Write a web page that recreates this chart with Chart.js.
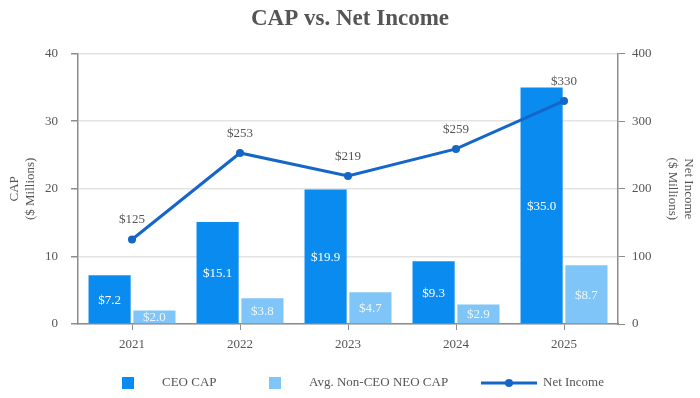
<!DOCTYPE html>
<html>
<head>
<meta charset="utf-8">
<script src="https://cdn.jsdelivr.net/npm/chart.js@4.4.1/dist/chart.umd.min.js"></script>
<style>
  html, body { margin: 0; padding: 0; background: #fff; }
  #wrap { width: 700px; height: 398px; }
</style>
</head>
<body>
<div id="wrap"><canvas id="CapCanvas" width="700" height="398"></canvas></div>
<script>
var years = ['2021', '2022', '2023', '2024', '2025'];
var ceoCap = [7.2, 15.1, 19.9, 9.3, 35.0];
var neoCap = [2.0, 3.8, 4.7, 2.9, 8.7];
var netIncome = [125, 253, 219, 259, 330];

var SERIF = "'Liberation Serif', 'Times New Roman', serif";
var CEO_BLUE = '#0a8bf0';
var NEO_BLUE = '#80c5f7';
var LINE_BLUE = '#1467c8';
var TEXT_GREY = '#555555';
var AXIS_GREY = '#8c8c8c';

function money(v, digits) {
    return '$' + v.toFixed(digits);
}

// value labels for bars and line points
var valueLabels = {
    id: 'valueLabels',
    afterDatasetsDraw: function (chart) {
        var ctx = chart.ctx;
        ctx.save();
        ctx.font = '13px ' + SERIF;
        ctx.textAlign = 'center';
        chart.data.datasets.forEach(function (ds, i) {
            var meta = chart.getDatasetMeta(i);
            meta.data.forEach(function (el, j) {
                var v = ds.data[j];
                if (ds.type === 'line') {
                    ctx.fillStyle = TEXT_GREY;
                    ctx.textBaseline = 'bottom';
                    ctx.fillText(money(v, 0), el.x, el.y - 13);
                } else {
                    ctx.fillStyle = i === 0 ? '#ffffff' : 'rgba(255,255,255,0.85)';
                    ctx.textBaseline = 'middle';
                    ctx.fillText(money(v, 1), el.x, (el.y + el.base) / 2 + 1);
                }
            });
        });
        ctx.restore();
    }
};

// legend with a line-and-marker sample for the line series
var bottomLegend = {
    id: 'bottomLegend',
    afterDraw: function (chart) {
        var ctx = chart.ctx;
        var ds = chart.data.datasets;
        var y = 383;
        ctx.save();
        ctx.font = '13px ' + SERIF;
        ctx.textBaseline = 'middle';
        ctx.textAlign = 'left';

        ctx.fillStyle = ds[0].backgroundColor;
        ctx.fillRect(122, y - 6, 12, 12);
        ctx.fillStyle = TEXT_GREY;
        ctx.fillText(ds[0].label, 162, y);

        ctx.fillStyle = ds[1].backgroundColor;
        ctx.fillRect(269, y - 6, 12, 12);
        ctx.fillStyle = TEXT_GREY;
        ctx.fillText(ds[1].label, 309, y);

        ctx.strokeStyle = ds[2].borderColor;
        ctx.lineWidth = 3;
        ctx.beginPath();
        ctx.moveTo(481, y);
        ctx.lineTo(537, y);
        ctx.stroke();
        ctx.fillStyle = ds[2].borderColor;
        ctx.beginPath();
        ctx.arc(509, y, 4, 0, Math.PI * 2);
        ctx.fill();
        ctx.fillStyle = TEXT_GREY;
        ctx.fillText(ds[2].label, 543, y);
        ctx.restore();
    }
};

var ctx = document.getElementById('CapCanvas').getContext('2d');

window.CapChart = new Chart(ctx, {
    type: 'bar',
    data: {
        labels: years,
        datasets: [
            {
                label: 'CEO CAP',
                data: ceoCap,
                backgroundColor: CEO_BLUE,
                yAxisID: 'y',
                order: 1,
                categoryPercentage: 0.83,
                barPercentage: 0.94
            },
            {
                label: 'Avg. Non-CEO NEO CAP',
                data: neoCap,
                backgroundColor: NEO_BLUE,
                yAxisID: 'y',
                order: 2,
                categoryPercentage: 0.83,
                barPercentage: 0.94
            },
            {
                type: 'line',
                label: 'Net Income',
                data: netIncome,
                borderColor: LINE_BLUE,
                backgroundColor: LINE_BLUE,
                borderWidth: 3,
                pointRadius: 4,
                pointBackgroundColor: LINE_BLUE,
                pointBorderWidth: 0,
                tension: 0,
                yAxisID: 'y1',
                order: 0
            }
        ]
    },
    options: {
        responsive: false,
        animation: false,
        devicePixelRatio: 1,
        layout: { padding: { left: 0, right: 0, top: 0, bottom: 46 } },
        plugins: {
            legend: { display: false },
            tooltip: { enabled: false },
            title: {
                display: true,
                text: 'CAP vs. Net Income',
                color: TEXT_GREY,
                font: { family: SERIF, size: 23, weight: 'bold' },
                padding: { top: 5, bottom: 21 }
            }
        },
        scales: {
            x: {
                afterFit: function (scale) { scale.height = 28; },
                grid: {
                    offset: false,
                    drawOnChartArea: false,
                    tickLength: 6,
                    tickColor: AXIS_GREY
                },
                border: { color: AXIS_GREY, width: 1.5 },
                ticks: {
                    color: TEXT_GREY,
                    padding: 7,
                    font: { family: SERIF, size: 13 }
                }
            },
            y: {
                position: 'left',
                min: 0,
                max: 40,
                afterFit: function (scale) { scale.width = 78; },
                grid: {
                    color: '#e3e3e3',
                    lineWidth: 1.5,
                    tickLength: 7,
                    tickColor: AXIS_GREY
                },
                border: { color: AXIS_GREY, width: 1.5 },
                ticks: {
                    stepSize: 10,
                    color: TEXT_GREY,
                    padding: 13,
                    font: { family: SERIF, size: 13 }
                },
                title: {
                    display: true,
                    text: ['CAP', '($ Millions)'],
                    color: TEXT_GREY,
                    font: { family: SERIF, size: 13, lineHeight: 1.2 },
                    padding: { top: 7, bottom: 0 }
                }
            },
            y1: {
                position: 'right',
                min: 0,
                max: 400,
                afterFit: function (scale) { scale.width = 82; },
                grid: {
                    drawOnChartArea: false,
                    tickLength: 7,
                    tickColor: AXIS_GREY
                },
                border: { color: AXIS_GREY, width: 1.5 },
                ticks: {
                    stepSize: 100,
                    color: TEXT_GREY,
                    padding: 7,
                    font: { family: SERIF, size: 13 }
                },
                title: {
                    display: true,
                    text: ['Net Income', '($ Millions)'],
                    color: TEXT_GREY,
                    font: { family: SERIF, size: 13, lineHeight: 1.2 },
                    padding: { top: 4, bottom: 0 }
                }
            }
        }
    },
    plugins: [valueLabels, bottomLegend]
});
</script>
</body>
</html>
